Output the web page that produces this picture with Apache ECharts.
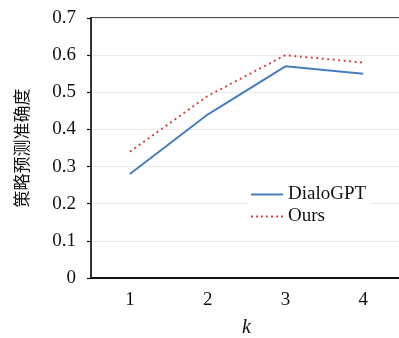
<!DOCTYPE html>
<html><head><meta charset="utf-8">
<script src="https://cdn.jsdelivr.net/npm/echarts@6/dist/echarts.min.js"></script>
<style>html,body{margin:0;padding:0;background:#fff}#c{width:399px;height:338px}</style>
</head><body><div id="c"></div>
<script>
const categories = ['1', '2', '3', '4'];
const dialoGPT = [0.28, 0.44, 0.57, 0.55];
const ours = [0.34, 0.49, 0.60, 0.58];
const yTicks = ['0', '0.1', '0.2', '0.3', '0.4', '0.5', '0.6', '0.7'];

const serif = '"Liberation Serif", "DejaVu Serif", serif';
const chart = echarts.init(document.getElementById('c'), null, {renderer: 'canvas'});
chart.setOption({
  animation: false,
  backgroundColor: '#fff',
  grid: {left: 91, top: 18, right: -3, bottom: 60, containLabel: false, outerBoundsMode: 'none',
    show: true, borderColor: '#111', borderWidth: 1.5, backgroundColor: 'transparent'},
  legend: {
    left: 249, top: 183, orient: 'vertical', itemGap: 3, itemWidth: 32, itemHeight: 12,
    backgroundColor: '#fff', padding: [2, 4, 2, 2],
    textStyle: {fontFamily: serif, fontSize: 19, color: '#111'},
    data: [{name: 'DialoGPT', icon: 'path://M0,5L32,5L32,7L0,7Z'},
           {name: 'Ours', icon: 'path://M0,5L2,5L2,7L0,7ZM5,5L7,5L7,7L5,7ZM10,5L12,5L12,7L10,7ZM15,5L17,5L17,7L15,7ZM20,5L22,5L22,7L20,7ZM25,5L27,5L27,7L25,7ZM30,5L32,5L32,7L30,7Z'}]
  },
  xAxis: {
    type: 'category', data: categories, boundaryGap: true,
    name: 'k', nameLocation: 'middle', nameGap: 40,
    nameTextStyle: {fontFamily: serif, fontSize: 20, fontStyle: 'italic', color: '#111'},
    axisLine: {lineStyle: {color: '#111', width: 2}},
    axisTick: {inside: true, length: 6, lineStyle: {color: '#111', width: 1.5}},
    axisLabel: {fontFamily: serif, fontSize: 19, color: '#111', margin: 13},
    splitLine: {show: false}
  },
  yAxis: {
    type: 'value', min: 0, max: 0.7, interval: 0.1,
    name: '策略预测准确度', nameLocation: 'middle', nameGap: 61, nameRotate: 90,
    nameTextStyle: {fontFamily: '"Noto Sans CJK SC", sans-serif', fontSize: 17, color: '#111'},
    axisLine: {show: true, lineStyle: {color: '#333', width: 2}},
    axisTick: {show: true, inside: false, length: 4, lineStyle: {color: '#111', width: 1.2}},
    axisLabel: {fontFamily: serif, fontSize: 19, color: '#111', margin: 15,
      formatter: function (v) { return yTicks[Math.round(v * 10)]; }},
    splitLine: {show: true, lineStyle: {color: '#ebebeb', width: 1}}
  },
  series: [
    {name: 'DialoGPT', type: 'line', data: dialoGPT, showSymbol: false, symbol: 'none',
      lineStyle: {color: '#4a7ebb', width: 2}, itemStyle: {color: '#4a7ebb'}},
    {name: 'Ours', type: 'line', data: ours, showSymbol: false, symbol: 'none',
      lineStyle: {color: '#d04a45', width: 2, type: [2, 3.5]}, itemStyle: {color: '#d04a45'}}
  ]
});
</script></body></html>
